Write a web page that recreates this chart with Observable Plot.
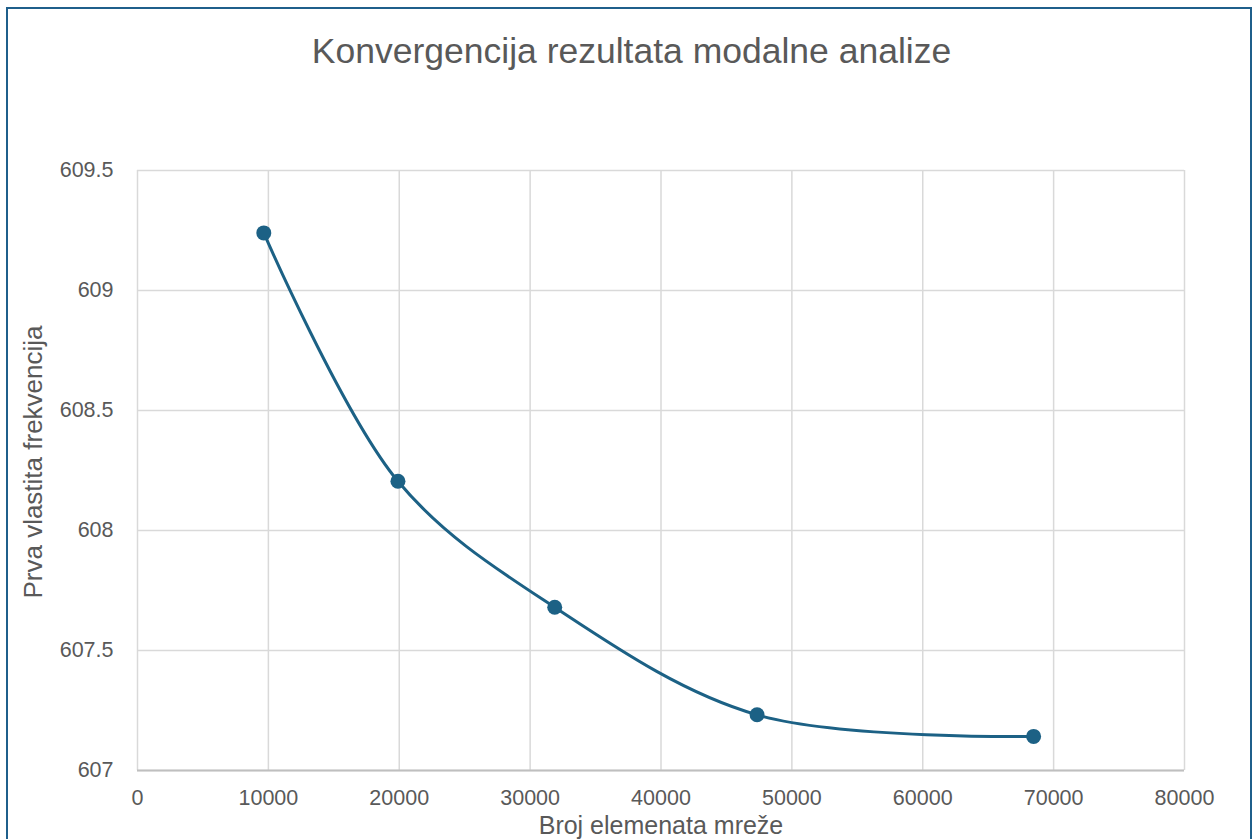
<!DOCTYPE html>
<html>
<head>
<meta charset="utf-8">
<script src="https://cdn.jsdelivr.net/npm/d3@7"></script>
<script src="https://cdn.jsdelivr.net/npm/@observablehq/plot@0.6"></script>
<style>
  html, body { margin: 0; padding: 0; background: #fff; }
  #wrap { position: relative; width: 1255px; height: 839px; overflow: hidden; font-family: "Liberation Sans", Arial, sans-serif; }
  #frame { position: absolute; left: 6px; top: 7px; width: 1246px; height: 850px; border: 2px solid #1f5f8b; box-sizing: border-box; }
  #title { position: absolute; left: 0; top: 52px; width: 1263px; transform: translateY(-50%); text-align: center; font-family: "Liberation Sans", sans-serif; font-size: 35.5px; color: #595959; line-height: 1; }
  #chart { position: absolute; left: 0; top: 100px; }
  #ytitle { position: absolute; left: 33px; top: 462px; transform: translate(-50%, -50%) rotate(-90deg); font-size: 26px; color: #595959; white-space: nowrap; line-height: 1; }
</style>
</head>
<body>
<div id="wrap">
  <div id="frame"></div>
  <div id="title">Konvergencija rezultata modalne analize</div>
  <div id="chart"></div>
  <div id="ytitle">Prva vlastita frekvencija</div>
</div>
<script>
const elements = [9650, 19900, 31880, 47340, 68470];
const frequency = [609.24, 608.205, 607.68, 607.232, 607.142];
const xTicks = [0, 10000, 20000, 30000, 40000, 50000, 60000, 70000, 80000];
const yTicks = [607, 607.5, 608, 608.5, 609, 609.5];
const xLabel = "Broj elemenata mreže";

const data = elements.map((x, i) => ({x, y: frequency[i]}));
const color = "#1c6185";
const fmt = d => String(d);

const plot = Plot.plot({
  width: 1255,
  height: 739,
  marginLeft: 137,
  marginRight: 71,
  marginTop: 70,
  marginBottom: 69,
  style: {fontFamily: "'Liberation Sans', Arial, sans-serif", fontSize: "21px", color: "#595959", background: "transparent"},
  x: {domain: [0, 80000], label: null},
  y: {domain: [607, 609.5], label: null},
  marks: [
    Plot.gridX(xTicks, {stroke: "#d9d9d9", strokeOpacity: 1, strokeWidth: 1.5}),
    Plot.gridY(yTicks, {stroke: "#d9d9d9", strokeOpacity: 1, strokeWidth: 1.5}),
    Plot.ruleY([607], {stroke: "#bfbfbf", strokeWidth: 2}),
    Plot.axisX(xTicks, {tickSize: 0, tickPadding: 19, tickFormat: fmt, fill: "#595959", fontSize: 21.5, label: null}),
    Plot.axisY(yTicks, {tickSize: 0, tickPadding: 24, tickFormat: fmt, fill: "#595959", fontSize: 21.5, label: null}),
    Plot.text([xLabel], {frameAnchor: "bottom", lineAnchor: "middle", dy: 55, fill: "#595959", fontSize: 25, text: d => d}),
    Plot.line(data, {x: "x", y: "y", stroke: color, strokeWidth: 3, curve: "catmull-rom"}),
    Plot.dot(data, {x: "x", y: "y", r: 7.5, fill: color, stroke: "none"})
  ]
});
document.getElementById("chart").appendChild(plot);
</script>
</body>
</html>
